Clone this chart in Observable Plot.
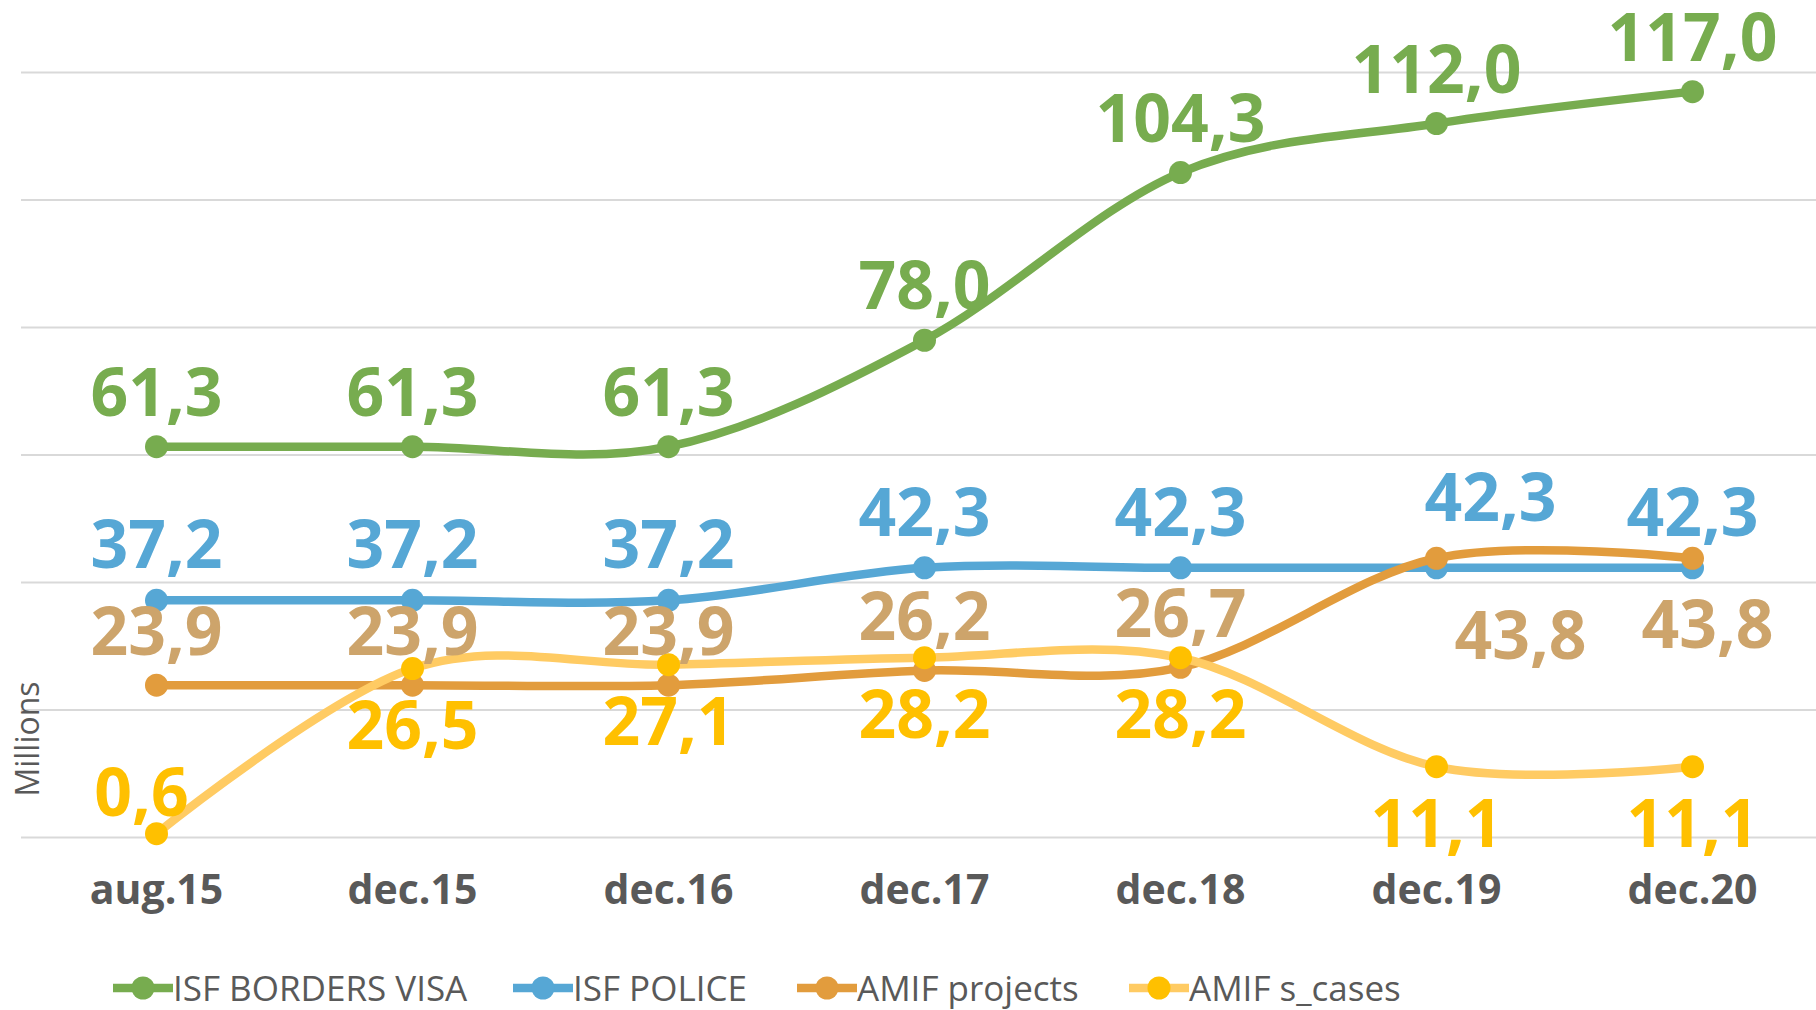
<!DOCTYPE html>
<html>
<head>
<meta charset="utf-8">
<script src="https://cdn.jsdelivr.net/npm/d3@7"></script>
<script src="https://cdn.jsdelivr.net/npm/@observablehq/plot@0.6"></script>
<style>
  html, body { margin: 0; padding: 0; background: #fff; }
  #wrap { position: relative; width: 1816px; height: 1010px; overflow: hidden; }
  #legend { position: absolute; left: 0; top: 966px; height: 44px; width: 1816px; font-family: "Open Sans", sans-serif; font-size: 35px; color: #595959; }
  .item { position: absolute; top: 0; height: 44px; display: flex; align-items: center; white-space: nowrap; line-height: 44px; }
  .item svg { display: block; }
</style>
</head>
<body>
<div id="wrap"><div id="chart"></div><div id="legend"></div></div>
<script>
const categories = ["aug.15", "dec.15", "dec.16", "dec.17", "dec.18", "dec.19", "dec.20"];
const seriesNames = ["ISF BORDERS VISA", "ISF POLICE", "AMIF projects", "AMIF s_cases"];
const isfBordersVisa = [61.3, 61.3, 61.3, 78.0, 104.3, 112.0, 117.0];
const isfPolice = [37.2, 37.2, 37.2, 42.3, 42.3, 42.3, 42.3];
const amifProjects = [23.9, 23.9, 23.9, 26.2, 26.7, 43.8, 43.8];
const amifSCases = [0.6, 26.5, 27.1, 28.2, 28.2, 11.1, 11.1];
const gridValues = [0, 20, 40, 60, 80, 100, 120];

// styles (not data): colours and label nudges in px
const styles = [
  {line: "#77AC4F", dot: "#77AC4F", label: "#77AC4F", def: [0, -31], over: {}},
  {line: "#56A7D5", dot: "#56A7D5", label: "#56A7D5", def: [0, -32], over: {5: [54, -47]}},
  {line: "#E29C3D", dot: "#E29C3D", label: "#CDA46B", def: [0, -30], over: {5: [84, 101], 6: [15, 90]}},
  {line: "#FFCB63", dot: "#FFC000", label: "#FFC000", def: [0, 80], over: {0: [-15, -18]}}
];

const values = [isfBordersVisa, isfPolice, amifProjects, amifSCases];
const tables = values.map((vals, s) => categories.map((c, i) => ({cat: c, v: vals[i], series: seriesNames[s], i})));
const fmt = v => v.toFixed(1).replace(".", ",");

const marks = [
  Plot.ruleY(gridValues, {stroke: "#D9D9D9", strokeWidth: 2})
];
tables.forEach((t, s) => {
  marks.push(Plot.lineY(t, {x: "cat", y: "v", stroke: styles[s].line, strokeWidth: 8.5, curve: "cardinal"}));
  marks.push(Plot.dot(t, {x: "cat", y: "v", fill: styles[s].dot, r: 11.5, stroke: null}));
});
tables.forEach((t, s) => {
  t.forEach((row, i) => {
    const [dx, dy] = styles[s].over[i] || styles[s].def;
    marks.push(Plot.text([row], {
      x: "cat", y: "v", text: d => fmt(d.v), dx, dy,
      lineAnchor: "bottom", textAnchor: "middle",
      fill: styles[s].label, fontSize: 66, fontWeight: 700, fontFamily: "Open Sans"
    }));
  });
});
marks.push(Plot.axisX({tickSize: 0, tickPadding: 37, fontSize: 41, fontWeight: 700, fill: "#595959", fontFamily: "Open Sans", label: null}));
marks.push(Plot.text(["Millions"], {frameAnchor: "left", rotate: -90, text: d => d, dx: 7, dy: 284, fontSize: 32, fill: "#595959", fontFamily: "Open Sans", textAnchor: "middle", lineAnchor: "middle"}));

const chart = Plot.plot({
  width: 1816,
  height: 950,
  marginTop: 72,
  marginBottom: 113,
  marginLeft: 21,
  marginRight: 0,
  style: {fontFamily: "Open Sans", overflow: "visible"},
  x: {type: "point", domain: categories, range: [155, 1692], padding: 0, axis: null},
  y: {domain: [0, 120], axis: null},
  marks
});
document.getElementById("chart").appendChild(chart);

// legend
const legendPos = [113, 513, 797, 1129];
const legend = document.getElementById("legend");
seriesNames.forEach((name, s) => {
  const item = document.createElement("div");
  item.className = "item";
  item.style.left = legendPos[s] + "px";
  item.innerHTML = `<svg width="60" height="30"><line x1="0" x2="60" y1="15" y2="15" stroke="${styles[s].line}" stroke-width="8.5"/><circle cx="30" cy="15" r="11.5" fill="${styles[s].dot}"/></svg><span>${name}</span>`;
  legend.appendChild(item);
});
</script>
</body>
</html>
